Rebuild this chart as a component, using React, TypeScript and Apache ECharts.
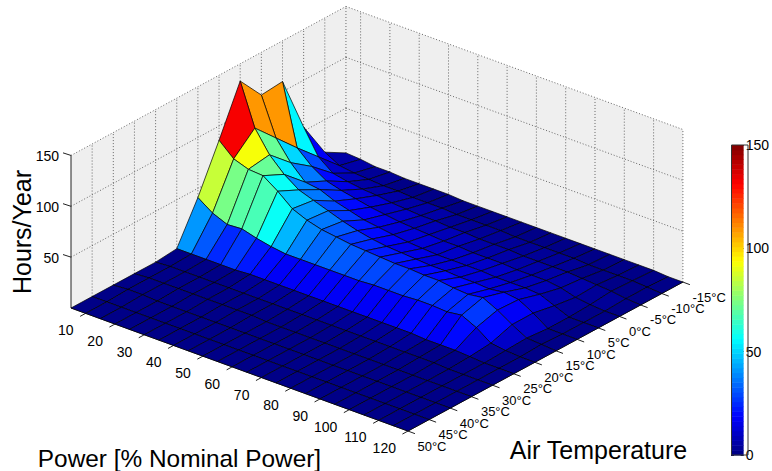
import React, { useEffect, useRef } from "react";
import * as echarts from "echarts";

const powerLabels = ["10","20","30","40","50","60","70","80","90","100","110","120"];
const tempLabels = ["50°C","45°C","40°C","35°C","30°C","25°C","20°C","15°C","10°C","5°C","0°C","-5°C","-10°C","-15°C"];
const zTicks = [50, 100, 150];

// hours per year; each list runs over power 5,10,...,120
const t50 = [0,0,0,0,0,0,0,0,0,0,0,0,0,0,0,0,0,0,0,0,0,0,0,0];
const t45 = [0,0,0,0,0,0,0,0,0,0,0,0,0,0,0,0,0,0,0,0,0,0,0,0];
const t40 = [0,1,1,0,0,0,0,0,0,0,0,0,0,0,0,0,0,0,0,0,0,0,0,0];
const t35 = [0,1,1,1,1,1,1,1,1,0,0,0,0,0,0,0,0,0,0,0,0,0,0,0];
const t30 = [0,1,1,1,1,1,1,1,1,1,1,1,1,1,1,1,1,1,1,1,0,0,0,0];
const t25 = [2,2,2,2,2,3,3,3,3,3,3,3,3,3,3,3,3,2,2,2,1,0,0,0];
const t20 = [41,31,25,26,22,19,17,17,17,17,17,17,18,18,18,19,19,18,20,13,3,1,0,0];
const t15 = [86,73,68,67,57,45,39,35,33,31,30,29,28,28,27,27,25,24,26,19,10,2,1,0];
const t10 = [133,92,71,57,47,42,37,32,28,25,23,22,21,20,20,19,19,18,20,18,10,0,0,0];
const t5 = [108,71,52,38,36,30,26,22,20,18,16,15,14,14,14,14,13,13,13,12,6,0,0,0];
const t0 = [110,50,37,28,24,21,18,16,14,13,12,11,11,10,10,10,9,9,9,7,3,1,0,0];
const tm5 = [54,30,19,16,14,13,11,10,9,9,8,8,7,7,7,6,6,6,6,5,4,3,1,0];
const tm10 = [18,10,8,7,6,6,5,5,5,4,4,4,4,3,3,3,3,3,2,2,2,2,1,0];
const tm15 = [6,5,3,3,2,2,2,2,1,1,1,1,1,1,1,1,1,1,1,1,1,1,0,0];
const hours = [t50,t45,t40,t35,t30,t25,t20,t15,t10,t5,t0,tm5,tm10,tm15];

const ZMAX = 150;
const LEVELS = 64;
const FONT = "Liberation Sans";

// parallel projection of the box: origin is the left floor corner
const px = (j: number, i: number) => 71 + j * 14.65 + i * 21.15;
const py = (j: number, i: number, z: number) => 308 + j * 5.35 - i * 11.46 - z * 1.017;
const pt = (j: number, i: number, z: number) => [px(j, i), py(j, i, z)];

function jet(v: number) {
  const t = (Math.min(LEVELS - 1, Math.floor((v / ZMAX) * LEVELS)) + 0.5) / LEVELS;
  const c = (x: number) => Math.round(255 * Math.max(0, Math.min(1, x)));
  return `rgb(${c(1.5 - Math.abs(4 * t - 3))},${c(1.5 - Math.abs(4 * t - 2))},${c(1.5 - Math.abs(4 * t - 1))})`;
}

const J = hours[0].length - 1;
const I = hours.length - 1;
const DOT = { stroke: "#666", lineWidth: 1, lineDash: [1, 2], fill: null };

function wallElements() {
  const els: any[] = [];
  els.push({ type: "polygon", shape: { points: [pt(0,0,0), pt(0,0,ZMAX), pt(0,I,ZMAX), pt(0,I,0)] }, style: { fill: "#efefef" } });
  els.push({ type: "polygon", shape: { points: [pt(0,I,0), pt(0,I,ZMAX), pt(J,I,ZMAX), pt(J,I,0)] }, style: { fill: "#efefef" } });
  const seg = (a: number[], b: number[]) => ({ type: "line", shape: { x1: a[0], y1: a[1], x2: b[0], y2: b[1] }, style: DOT });
  zTicks.forEach((z) => {
    els.push(seg(pt(0,0,z), pt(0,I,z)));
    els.push(seg(pt(0,I,z), pt(J,I,z)));
  });
  for (let i = 1; i <= I; i++) els.push(seg(pt(0,i,0), pt(0,i,ZMAX)));
  powerLabels.forEach((_, k) => {
    const j = 2 * k + 1;
    els.push(seg(pt(j,I,0), pt(j,I,ZMAX)));
  });
  return els;
}

function axisElements() {
  const els: any[] = [];
  const solid = { stroke: "#222", lineWidth: 1 };
  const seg = (a: number[], b: number[]) => ({ type: "line", shape: { x1: a[0], y1: a[1], x2: b[0], y2: b[1] }, style: solid });
  els.push(seg(pt(0,0,0), pt(0,0,ZMAX)));
  els.push(seg(pt(0,0,0), pt(J,0,0)));
  els.push(seg(pt(J,0,0), pt(J,I,0)));
  zTicks.forEach((z) => {
    const a = pt(0,0,z);
    els.push(seg(a, [a[0] - 8, a[1] - 2.6]));
  });
  powerLabels.forEach((_, k) => {
    const a = pt(2 * k + 1, 0, 0);
    els.push(seg(a, [a[0] - 5.5, a[1] + 3]));
  });
  tempLabels.forEach((_, i) => {
    const a = pt(J, i, 0);
    els.push(seg(a, [a[0] + 7, a[1] + 2.6]));
  });
  return els;
}

const quads: number[][] = [];
for (let i = I - 1; i >= 0; i--) for (let j = 0; j < J; j++) quads.push([j, i]);

const bands = Array.from({ length: LEVELS }, (_, k) => k);

function textEl(text: string, x: number, y: number, fontSize: number, align: string, rotation = 0) {
  return {
    type: "text", x, y, rotation, silent: true, z: 20,
    style: { text, x: 0, y: 0, fontSize, fontFamily: FONT, fill: "#000", align, verticalAlign: "middle" },
  };
}

function buildOption() {
  const texts: any[] = [];
  zTicks.forEach((z) => texts.push(textEl(String(z), 59, py(0,0,z) + 0.5, 14, "right")));
  powerLabels.forEach((l, k) => texts.push(textEl(l, px(2 * k + 1, 0) - 12, py(2 * k + 1, 0, 0) + 17, 14, "right")));
  tempLabels.forEach((l, i) => texts.push(textEl(l, px(J, i) + 9.5, py(J, i, 0) + 15, 13, "left")));
  texts.push(textEl("Hours/Year", 22, 232, 25, "center", Math.PI / 2));
  texts.push(textEl("Power [% Nominal Power]", 179.5, 458, 24.4, "center"));
  texts.push(textEl("Air Temperature", 598.5, 450, 25, "center"));

  return {
    animation: false,
    backgroundColor: "#fff",
    grid: { left: 731, top: 145, width: 17, height: 310 },
    xAxis: { type: "value", min: 0, max: 1, show: false },
    yAxis: [
      {
        type: "value", min: 0, max: 150, interval: 50, position: "left",
        axisLine: { show: false }, splitLine: { show: false }, axisLabel: { show: false },
        axisTick: { show: true, inside: true, length: 3, lineStyle: { color: "#222" } },
      },
      {
        type: "value", min: 0, max: 150, interval: 50, position: "right",
        axisLine: { show: false }, splitLine: { show: false },
        axisTick: { show: true, inside: true, length: 3, lineStyle: { color: "#222" } },
        axisLabel: { color: "#000", fontSize: 14, fontFamily: FONT, margin: 2, padding: [6, 0, 0, 0], showMinLabel: true, showMaxLabel: true },
      },
    ],
    series: [
      {
        type: "custom", coordinateSystem: "none", silent: true, z: 1, data: [0],
        renderItem: () => ({ type: "group", children: wallElements() }),
      },
      {
        type: "custom", coordinateSystem: "none", silent: true, z: 2, data: [0],
        renderItem: () => ({ type: "group", children: axisElements() }),
      },
      {
        type: "custom", coordinateSystem: "none", silent: true, z: 3, data: quads,
        renderItem: (_: any, api: any) => {
          const j = api.value(0), i = api.value(1);
          return {
            type: "polygon",
            shape: { points: [
              pt(j, i, hours[i][j]), pt(j + 1, i, hours[i][j + 1]),
              pt(j + 1, i + 1, hours[i + 1][j + 1]), pt(j, i + 1, hours[i + 1][j]),
            ] },
            style: { fill: jet(hours[i + 1][j]), stroke: "#000", lineWidth: 0.7, lineJoin: "round" },
          };
        },
      },
      {
        type: "custom", coordinateSystem: "cartesian2d", xAxisIndex: 0, yAxisIndex: 0, silent: true, z: 2,
        data: bands,
        encode: { x: [], y: 0 },
        renderItem: (_: any, api: any) => {
          const k = api.value(0);
          const a = api.coord([0, (k / LEVELS) * 150]);
          const b = api.coord([1, ((k + 1) / LEVELS) * 150]);
          return {
            type: "rect",
            shape: { x: a[0], y: b[1], width: b[0] - a[0], height: a[1] - b[1] + 0.5 },
            style: { fill: jet(((k + 0.5) / LEVELS) * 150) },
          };
        },
      },
    ],
    graphic: texts.concat([
      { type: "rect", silent: true, z: 20, shape: { x: 731.5, y: 145, width: 16.5, height: 310 }, style: { fill: null, stroke: "#333", lineWidth: 1 } },
    ]),
  };
}

export default function App() {
  const ref = useRef<HTMLDivElement>(null);
  useEffect(() => {
    const chart = echarts.init(ref.current!, null, { renderer: "svg" });
    chart.setOption(buildOption() as any);
    return () => chart.dispose();
  }, []);
  return <div ref={ref} style={{ position: "absolute", left: 0, top: 0, width: 772, height: 471, background: "#fff" }} />;
}
